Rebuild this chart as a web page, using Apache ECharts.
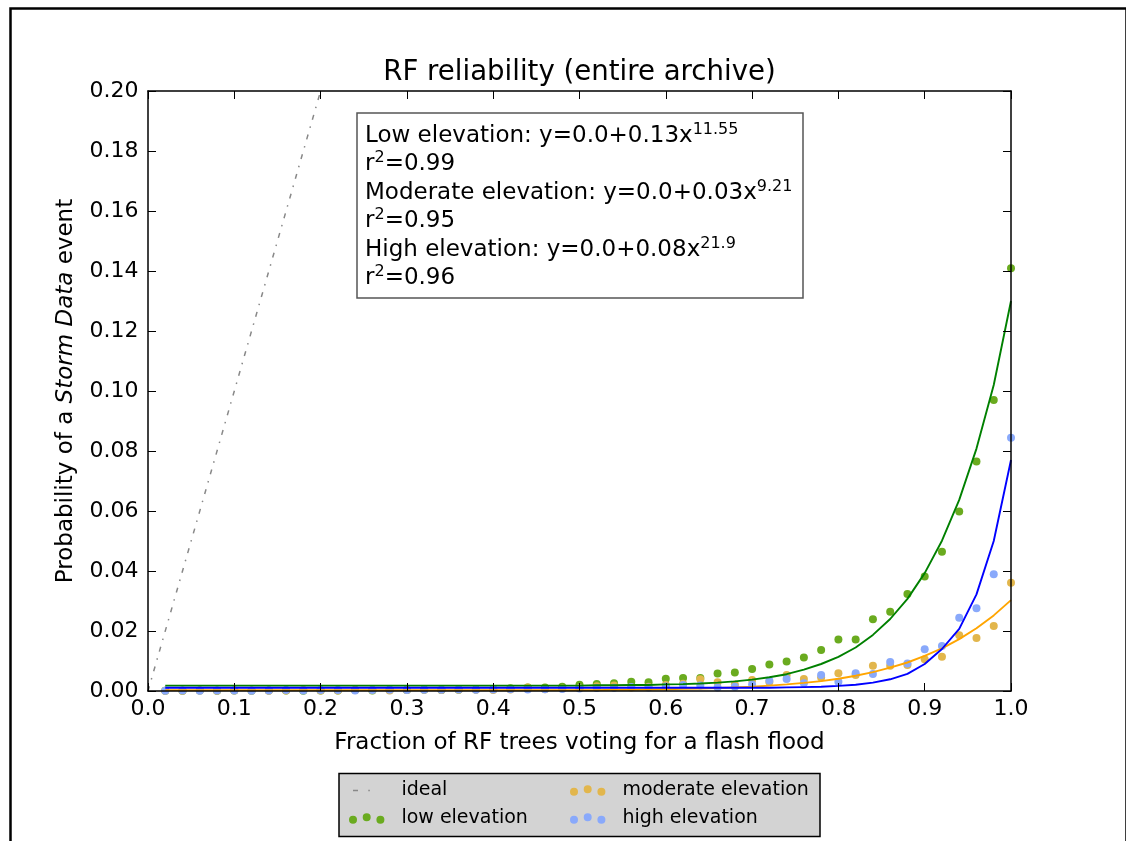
<!DOCTYPE html>
<html>
<head>
<meta charset="utf-8">
<script src="https://cdn.jsdelivr.net/npm/echarts@6/dist/echarts.min.js"></script>
<style>
html,body{margin:0;padding:0;background:#fff;}
#c{width:1126px;height:841px;}
</style>
</head>
<body>
<div id="c"></div>
<script>
// ---- data ----
const xs = [0.02,0.04,0.06,0.08,0.10,0.12,0.14,0.16,0.18,0.20,0.22,0.24,0.26,0.28,0.30,0.32,0.34,0.36,0.38,0.40,0.42,0.44,0.46,0.48,0.50,0.52,0.54,0.56,0.58,0.60,0.62,0.64,0.66,0.68,0.70,0.72,0.74,0.76,0.78,0.80,0.82,0.84,0.86,0.88,0.90,0.92,0.94,0.96,0.98,1.00];

const lowPts = [0.0001,0.0001,0.0002,0.0001,0.0002,0.0001,0.0002,0.0002,0.0001,0.0002,0.0002,0.0003,0.0002,0.0003,0.0003,0.0004,0.0003,0.0004,0.0005,0.0006,
  0.0009,0.0012,0.0012,0.0014,0.0021,0.0023,0.0026,0.0031,0.0029,0.0041,
  0.0043,0.0043,0.0058,0.0062,0.0073,0.0088,0.0098,0.0112,0.0137,0.0172,
  0.0172,0.0239,0.0264,0.0323,0.0382,0.0464,0.0598,0.0765,0.0970,0.1409];

const modPts = [0.0001,0.0001,0.0002,0.0001,0.0002,0.0002,0.0001,0.0002,0.0003,0.0002,0.0002,0.0003,0.0003,0.0002,0.0003,0.0004,0.0003,0.0004,0.0004,0.0003,
  0.0005,0.0012,0.0006,0.0008,0.0010,0.0016,0.0018,0.0012,0.0014,0.0020,
  0.0024,0.0039,0.0029,0.0022,0.0037,0.0030,0.0053,0.0040,0.0045,0.0059,
  0.0053,0.0084,0.0084,0.0087,0.0106,0.0114,0.0186,0.0177,0.0217,0.0361];

const highPts = [0.0001,0.0002,0.0001,0.0002,0.0002,0.0001,0.0002,0.0003,0.0002,0.0003,0.0003,0.0002,0.0003,0.0004,0.0003,0.0004,0.0004,0.0005,0.0004,0.0005,
  0.0006,0.0005,0.0006,0.0007,0.0008,0.0010,0.0011,0.0013,0.0012,0.0015,
  0.0020,0.0018,0.0012,0.0014,0.0022,0.0034,0.0040,0.0026,0.0053,0.0031,
  0.0059,0.0057,0.0097,0.0092,0.0139,0.0150,0.0244,0.0276,0.0389,0.0844];

const lowFit = [0.0018,0.0018,0.0018,0.0018,0.0018,0.0018,0.0018,0.0018,0.0018,0.0018,0.0018,0.0018,0.0018,0.0018,0.0018,0.0018,0.0018,0.0018,0.0018,0.0018,0.0018,0.0018,0.0018,0.0018,
  0.0018,0.0019,0.0019,0.0020,0.0020,0.0022,0.0023,0.0025,0.0028,0.0032,0.0038,0.0046,0.0056,0.0071,0.0090,0.0114,0.0145,0.0187,0.0240,0.0307,0.0393,0.0501,0.0637,0.0808,0.1020,0.1300];

const modFit = [0.0003,0.0003,0.0003,0.0003,0.0003,0.0003,0.0003,0.0003,0.0003,0.0003,0.0003,0.0003,0.0003,0.0003,0.0003,0.0003,0.0003,0.0003,0.0003,0.0003,0.0003,0.0003,0.0003,0.0003,
  0.0003,0.0003,0.0004,0.0004,0.0005,0.0006,0.0007,0.0008,0.0010,0.0012,0.0014,0.0018,0.0022,0.0027,0.0033,0.0041,0.0051,0.0063,0.0078,0.0095,0.0117,0.0142,0.0173,0.0209,0.0252,0.0303];

const highFit = [0.0011,0.0011,0.0011,0.0011,0.0011,0.0011,0.0011,0.0011,0.0011,0.0011,0.0011,0.0011,0.0011,0.0011,0.0011,0.0011,0.0011,0.0011,0.0011,0.0011,0.0011,0.0011,0.0011,0.0011,
  0.0011,0.0011,0.0011,0.0011,0.0011,0.0011,0.0011,0.0011,0.0011,0.0011,0.0011,0.0011,
  0.0012,0.0013,0.0014,0.0017,0.0021,0.0028,0.0039,0.0057,0.0090,0.0140,0.0207,0.0322,0.0500,0.0770];

const idealX = [0, 1];
const idealY = [0, 1];

const xTicks = ['0.0','0.1','0.2','0.3','0.4','0.5','0.6','0.7','0.8','0.9','1.0'];
const yTicks = ['0.00','0.02','0.04','0.06','0.08','0.10','0.12','0.14','0.16','0.18','0.20'];

// ---- build ----
const zip = (a, b) => a.map((v, i) => [v, b[i]]);
const FONT = 'DejaVu Sans';
const dotsIcon = 'path://M0,6.5a4,4 0 1,0 8,0a4,4 0 1,0 -8,0Z M13.7,4a4,4 0 1,0 8,0a4,4 0 1,0 -8,0Z M27.4,6.5a4,4 0 1,0 8,0a4,4 0 1,0 -8,0Z';
const idealIcon = 'path://M0,0M35.4,10.5M4,4.5L9,4.5L9,6L4,6Z M19.3,4.5L20.8,4.5L20.8,6L19.3,6Z';

const chart = echarts.init(document.getElementById('c'), null, {renderer: 'canvas'});

const hiddenAxisCommon = {
  axisLine: {show: true, onZero: false, lineStyle: {color: '#000', width: 1.5}},
  axisTick: {show: true, inside: true, length: 8, lineStyle: {color: '#000', width: 1}},
  axisLabel: {show: false},
  splitLine: {show: false}
};

const legendCommon = {
  orient: 'vertical', top: 779.5, padding: 0, itemWidth: 35.4, itemHeight: 10.5, itemGap: 6,
  selectedMode: false,
  textStyle: {fontFamily: FONT, fontSize: 19, lineHeight: 22, color: '#000', padding: [0, 0, 0, 12]}
};

chart.setOption({
  animation: false,
  backgroundColor: '#fff',
  title: {
    text: 'RF reliability (entire archive)', left: 579.5, textAlign: 'center', top: 59, padding: 0,
    textStyle: {fontFamily: FONT, fontSize: 27.6, fontWeight: 'normal', color: '#000'}
  },
  grid: {left: 148, right: 115, top: 91, bottom: 150, containLabel: false},
  xAxis: [
    {
      type: 'value', position: 'bottom', min: 0, max: 1, interval: 0.1,
      name: 'Fraction of RF trees voting for a flash flood', nameLocation: 'middle', nameGap: 41,
      nameTextStyle: {fontFamily: FONT, fontSize: 23, color: '#000'},
      axisLine: {show: true, onZero: false, lineStyle: {color: '#000', width: 1.5}},
      axisTick: {show: true, inside: true, length: 8, lineStyle: {color: '#000', width: 1}},
      axisLabel: {fontFamily: FONT, fontSize: 22, color: '#000', margin: 7,
        formatter: (v) => xTicks[Math.round(v * 10)]},
      splitLine: {show: false}, z: 10
    },
    Object.assign({type: 'value', position: 'top', min: 0, max: 1, interval: 0.1, z: 10}, hiddenAxisCommon)
  ],
  yAxis: [
    {
      type: 'value', position: 'left', min: 0, max: 0.2, interval: 0.02,
      name: '{a|Probability of a }{i|Storm Data}{a| event}', nameLocation: 'middle', nameGap: 70.5, nameRotate: 90,
      nameTextStyle: {fontFamily: FONT, fontSize: 23, color: '#000',
        rich: {a: {fontFamily: FONT, fontSize: 23, color: '#000'}, i: {fontFamily: FONT, fontSize: 23, fontStyle: 'italic', color: '#000'}}},
      axisLine: {show: true, onZero: false, lineStyle: {color: '#000', width: 1.5}},
      axisTick: {show: true, inside: true, length: 8, lineStyle: {color: '#000', width: 1}},
      axisLabel: {fontFamily: FONT, fontSize: 22, color: '#000', margin: 9.5,
        formatter: (v) => yTicks[Math.round(v * 50)]},
      splitLine: {show: false}, z: 10
    },
    Object.assign({type: 'value', position: 'right', min: 0, max: 0.2, interval: 0.02, z: 10}, hiddenAxisCommon)
  ],
  legend: [
    Object.assign({left: 349, data: [{name: 'ideal', icon: idealIcon}, {name: 'low elevation', icon: dotsIcon}]}, legendCommon),
    Object.assign({left: 570, data: [{name: 'moderate elevation', icon: dotsIcon}, {name: 'high elevation', icon: dotsIcon}]}, legendCommon)
  ],
  series: [
    {name: 'ideal', type: 'line', data: zip(idealX, idealY), symbol: 'none', clip: true,
      itemStyle: {color: '#888888'},
      lineStyle: {color: '#888888', width: 1.5, type: [5, 7, 1.5, 7]}, z: 2},
    {name: 'low elevation', type: 'scatter', data: zip(xs, lowPts), symbolSize: 8,
      itemStyle: {color: '#6aab1f', opacity: 1}, z: 3},
    {name: 'moderate elevation', type: 'scatter', data: zip(xs, modPts), symbolSize: 8,
      itemStyle: {color: '#e2b64c', opacity: 1}, z: 3},
    {name: 'high elevation', type: 'scatter', data: zip(xs, highPts), symbolSize: 8,
      itemStyle: {color: '#89a9fb', opacity: 1}, z: 3},
    {name: 'low fit', type: 'line', data: zip(xs, lowFit), symbol: 'none', lineStyle: {color: '#008000', width: 1.9}, itemStyle: {color: '#008000'}, z: 4},
    {name: 'moderate fit', type: 'line', data: zip(xs, modFit), symbol: 'none', lineStyle: {color: '#ffa500', width: 1.9}, itemStyle: {color: '#ffa500'}, z: 4},
    {name: 'high fit', type: 'line', data: zip(xs, highFit), symbol: 'none', lineStyle: {color: '#0000ff', width: 1.9}, itemStyle: {color: '#0000ff'}, z: 4}
  ],
  graphic: [
    {type: 'rect', left: 8, top: 6, z: 100, silent: true,
      shape: {x: 0, y: 0, width: 1116, height: 900},
      style: {fill: 'none', stroke: '#000', lineWidth: 2.5}},
    {type: 'rect', z: -1, silent: true, position: [339, 773.5],
      shape: {x: 0, y: 0, width: 481, height: 63},
      style: {fill: '#d3d3d3', stroke: '#000', lineWidth: 1.5}},
    {type: 'rect', z: 5, silent: true, position: [357, 113],
      shape: {x: 0, y: 0, width: 446, height: 185},
      style: {fill: '#fff', stroke: '#555', lineWidth: 1.5}},
    {type: 'text', z: 6, silent: true, position: [365, 121.5],
      style: {
        text: '{t|Low elevation: y=0.0+0.13x}{s|11.55}\n{t|r}{s|2}{t|=0.99}\n{t|Moderate elevation: y=0.0+0.03x}{s|9.21}\n{t|r}{s|2}{t|=0.95}\n{t|High elevation: y=0.0+0.08x}{s|21.9}\n{t|r}{s|2}{t|=0.96}',
        verticalAlign: 'top', align: 'left',
        rich: {
          t: {fontFamily: FONT, fontSize: 23, lineHeight: 28.5, fill: '#000'},
          s: {fontFamily: FONT, fontSize: 16, lineHeight: 13, verticalAlign: 'top', fill: '#000'}
        }
      }}
  ]
});
</script>
</body>
</html>
